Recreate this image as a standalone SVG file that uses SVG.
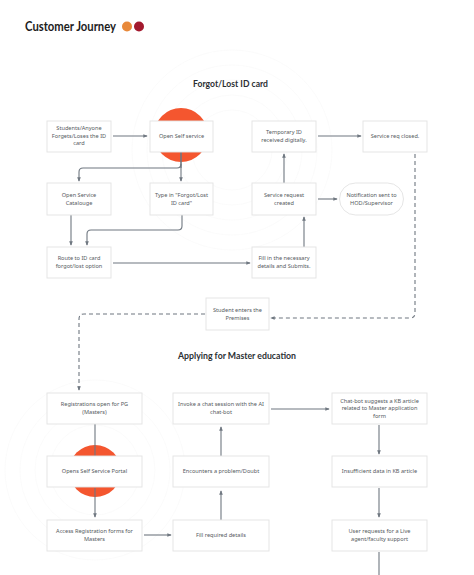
<svg xmlns="http://www.w3.org/2000/svg" width="474" height="575" viewBox="0 0 474 575">
<defs>
<style>
.bg{fill:#ffffff}
.ring{fill:none;stroke:#fafafa;stroke-width:0.8}
.box{fill:#ffffff;stroke:#e2e2e2;stroke-width:0.9}
.t{font-family:"Noto Sans","Open Sans",sans-serif;font-size:5.6px;fill:#555a60;text-anchor:middle}
.h{font-family:"Lato","Liberation Sans",sans-serif;font-weight:bold;font-size:9.5px;fill:#2b2f33}
.c{fill:none;stroke:#6f7780;stroke-width:1.1}
.d{fill:none;stroke:#6f7780;stroke-width:1.1;stroke-dasharray:4 3}
.dot{fill:#f4562f}
</style>
<marker id="ah" viewBox="0 0 6 6" refX="5" refY="3" markerWidth="4" markerHeight="4" orient="auto">
<path d="M0,0.5 L6,3 L0,5.5 z" fill="#6f7780"/>
</marker>
</defs>
<rect class="bg" width="474" height="575"/>
<g id="watermark">
<circle class="ring" cx="232" cy="150" r="40"/>
<circle class="ring" cx="232" cy="150" r="55"/>
<circle class="ring" cx="232" cy="150" r="70"/>
<circle class="ring" cx="232" cy="150" r="85"/>
<circle class="ring" cx="232" cy="150" r="100"/>
<circle class="ring" cx="95" cy="470" r="45"/>
<circle class="ring" cx="95" cy="470" r="60"/>
<circle class="ring" cx="95" cy="470" r="75"/>
<circle class="ring" cx="95" cy="470" r="90"/>
</g>
<g id="header">
<text x="25" y="31" font-family="Lato,'Liberation Sans',sans-serif" font-weight="bold" font-size="13" fill="#1c1c1c" textLength="91" lengthAdjust="spacingAndGlyphs">Customer Journey</text>
<circle cx="127" cy="26.5" r="5" fill="#e8893a"/>
<circle cx="139" cy="26.5" r="5" fill="#a3192e"/>
</g>
<text class="h" x="193" y="87" textLength="75" lengthAdjust="spacingAndGlyphs">Forgot/Lost ID card</text>
<text class="h" x="178" y="359" textLength="118" lengthAdjust="spacingAndGlyphs">Applying for Master education</text>
<circle class="dot" cx="181" cy="135" r="27"/>
<circle class="dot" cx="95" cy="471" r="26"/>
<g id="connectors">
<path class="c" d="M113,136 H147" marker-end="url(#ah)"/>
<path class="c" d="M181,152 V181" marker-end="url(#ah)"/>
<path class="c" d="M181,164 Q181,168 177,168 H83 Q79,168 79,172 V181" marker-end="url(#ah)"/>
<path class="c" d="M71,215 V245" marker-end="url(#ah)"/>
<path class="c" d="M182,215 V226 Q182,230 178,230 H91 Q87,230 87,234 V245" marker-end="url(#ah)"/>
<path class="c" d="M113,263 H250" marker-end="url(#ah)"/>
<path class="c" d="M304,247 V217" marker-end="url(#ah)"/>
<path class="c" d="M284,183 V154" marker-end="url(#ah)"/>
<path class="c" d="M318,199 H337" marker-end="url(#ah)"/>
<path class="c" d="M318,136 H361" marker-end="url(#ah)"/>
<path class="d" d="M415,154 V313 Q415,318 410,318 H271" marker-end="url(#ah)"/>
<path class="d" d="M205,314 H84 Q79,314 79,319 V390" marker-end="url(#ah)"/>
<path class="c" d="M95,488 V517" marker-end="url(#ah)"/>
<path class="c" d="M144,535 H171" marker-end="url(#ah)"/>
<path class="c" d="M221,520 V491" marker-end="url(#ah)"/>
<path class="c" d="M221,456 V427" marker-end="url(#ah)"/>
<path class="c" d="M271,409 H329" marker-end="url(#ah)"/>
<path class="c" d="M379,425 V454" marker-end="url(#ah)"/>
<path class="c" d="M379,488 V517" marker-end="url(#ah)"/>
<path class="c" d="M379,552 V575"/>
<path class="c" d="M95,424 V456"/>
<path class="c" d="M181,152 V168"/>
</g>
<g id="n-students"><rect class="box" x="47" y="121" width="64" height="31"/><text class="t" x="79" y="130">Students/Anyone</text><text class="t" x="79" y="137.5">Forgets/Loses the ID</text><text class="t" x="79" y="145">card</text></g>
<g id="n-open-self"><rect class="box" x="150" y="121" width="63" height="31"/><text class="t" x="181.5" y="138">Open Self service</text></g>
<g id="n-temp-id"><rect class="box" x="252" y="121" width="64" height="31"/><text class="t" x="284" y="134">Temporary ID</text><text class="t" x="284" y="141.5">received digitally.</text></g>
<g id="n-closed"><rect class="box" x="363" y="121" width="64" height="31"/><text class="t" x="395" y="138">Service req closed.</text></g>
<g id="n-catalogue"><rect class="box" x="47" y="183" width="64" height="32"/><text class="t" x="79" y="197">Open Service</text><text class="t" x="79" y="204.5">Catalouge</text></g>
<g id="n-type-in"><rect class="box" x="150" y="183" width="63" height="32"/><text class="t" x="181.5" y="197">Type in "Forgot/Lost</text><text class="t" x="181.5" y="204.5">ID card"</text></g>
<g id="n-sr-created"><rect class="box" x="252" y="183" width="64" height="32"/><text class="t" x="284" y="197">Service request</text><text class="t" x="284" y="204.5">created</text></g>
<g id="n-notification"><rect class="box" x="339.5" y="183" width="64" height="32" rx="16"/><text class="t" x="371.5" y="197">Notification sent to</text><text class="t" x="371.5" y="204.5">HOD/Supervisor</text></g>
<g id="n-route"><rect class="box" x="47" y="247" width="64" height="31"/><text class="t" x="79" y="260">Route to ID card</text><text class="t" x="79" y="267.5">forgot/lost option</text></g>
<g id="n-fill"><rect class="box" x="252" y="247" width="64" height="31"/><text class="t" x="284" y="260">Fill in the necessary</text><text class="t" x="284" y="267.5">details and Submits.</text></g>
<g id="n-premises"><rect class="box" x="206" y="298" width="63" height="32"/><text class="t" x="237.5" y="312">Student enters the</text><text class="t" x="237.5" y="319.5">Premises</text></g>
<g id="n-registrations"><rect class="box" x="47" y="393" width="95" height="31"/><text class="t" x="94.5" y="406">Registrations open for PG</text><text class="t" x="94.5" y="413.5">(Masters)</text></g>
<g id="n-invoke"><rect class="box" x="173" y="393" width="96" height="31"/><text class="t" x="221" y="406">Invoke a chat session with the AI</text><text class="t" x="221" y="413.5">chat-bot</text></g>
<g id="n-kb"><rect class="box" x="332" y="393" width="95" height="31"/><text class="t" x="379.5" y="402.5">Chat-bot suggests a KB article</text><text class="t" x="379.5" y="410">related to Master application</text><text class="t" x="379.5" y="417.5">form</text></g>
<g id="n-portal"><rect class="box" x="47" y="456" width="95" height="31"/><text class="t" x="94.5" y="473">Opens Self Service Portal</text></g>
<g id="n-problem"><rect class="box" x="173" y="456" width="96" height="31"/><text class="t" x="221" y="473">Encounters a problem/Doubt</text></g>
<g id="n-insufficient"><rect class="box" x="332" y="456" width="95" height="31"/><text class="t" x="379.5" y="473">Insufficient data in KB article</text></g>
<g id="n-access"><rect class="box" x="47" y="520" width="95" height="31"/><text class="t" x="94.5" y="533">Access Registration forms for</text><text class="t" x="94.5" y="540.5">Masters</text></g>
<g id="n-fill-req"><rect class="box" x="173" y="520" width="96" height="31"/><text class="t" x="221" y="537">Fill required details</text></g>
<g id="n-live"><rect class="box" x="332" y="520" width="95" height="31"/><text class="t" x="379.5" y="533">User requests for a Live</text><text class="t" x="379.5" y="540.5">agent/faculty support</text></g>
</svg>
